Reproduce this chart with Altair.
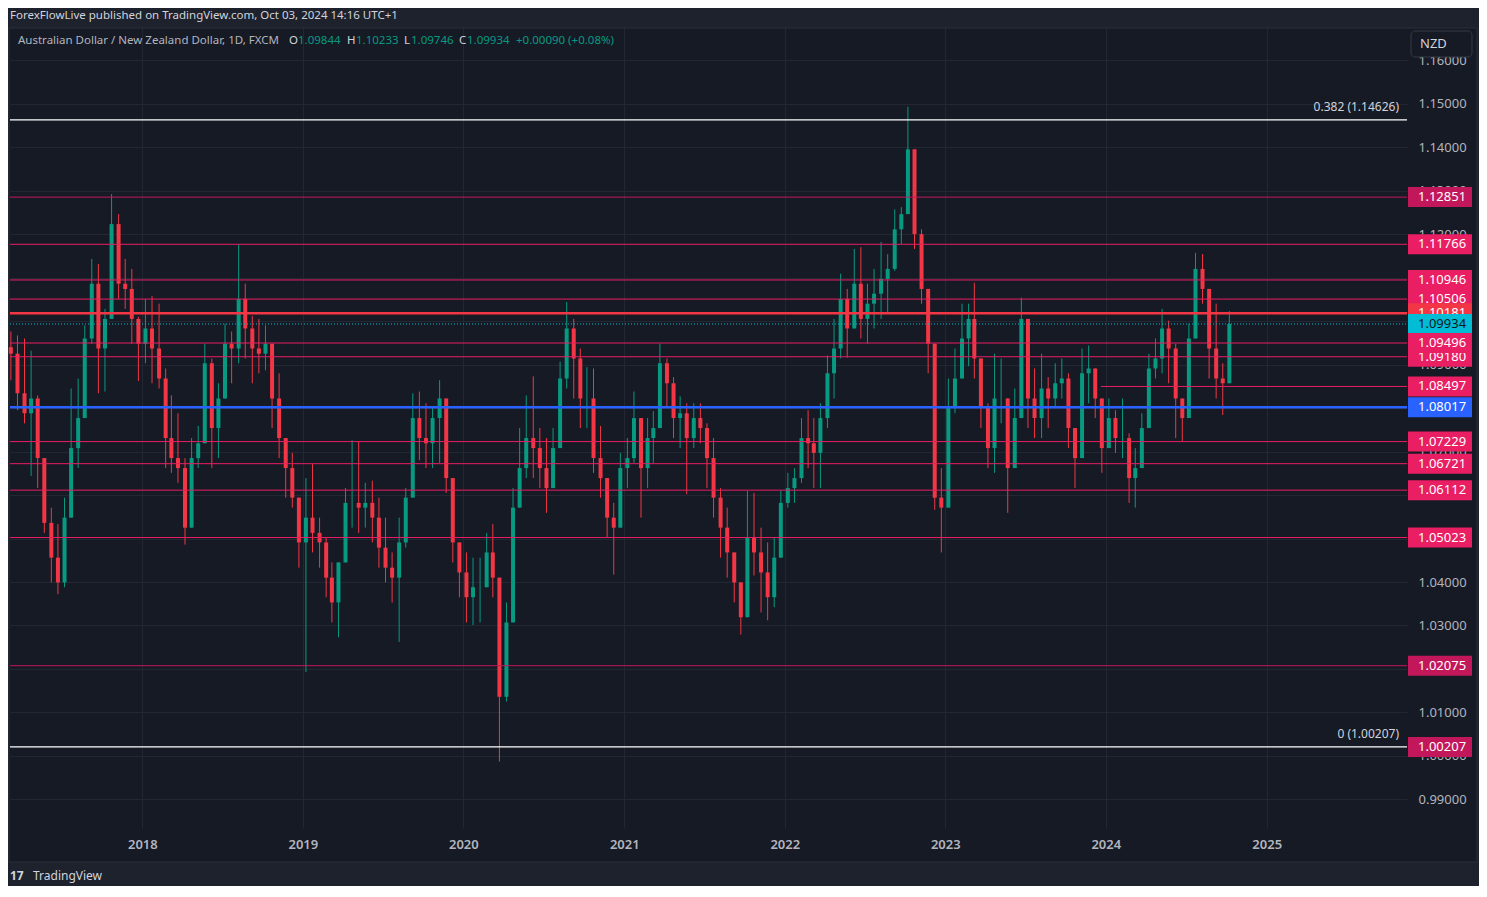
import altair as alt
import pandas as pd

# ---------------- data (semi-monthly candles) ----------------
first_open = 1.0940
highs = [1.0976, 1.0967, 1.0960, 1.0932, 1.0829, 1.0680, 1.0571, 1.0533, 1.0594, 1.0845,
         1.0868, 1.0990, 1.1143, 1.1131, 1.1028, 1.1292, 1.1246, 1.1143, 1.1120, 1.1010,
         1.1051, 1.1058, 1.1040, 1.0891, 1.0829, 1.0788, 1.0685, 1.0731, 1.0759, 1.0948,
         1.0914, 1.0857, 1.0994, 1.0976, 1.1177, 1.1086, 1.1012, 1.1005, 1.0990, 1.0925,
         1.0880, 1.0719, 1.0697, 1.0582, 1.0639, 1.0671, 1.0548, 1.0502, 1.0445, 1.0410,
         1.0616, 1.0726, 1.0724, 1.0628, 1.0633, 1.0594, 1.0548, 1.0468, 1.0548, 1.0616,
         1.0834, 1.0838, 1.0811, 1.0804, 1.0864, 1.0822, 1.0605, 1.0491, 1.0468, 1.0456,
         1.0456, 1.0513, 1.0533, 1.0307, 1.0353, 1.0616, 1.0754, 1.0829, 1.0873, 1.0754,
         1.0731, 1.0754, 1.0907, 1.1044, 1.1005, 1.0937, 1.0894, 1.0891, 1.0759, 1.0639,
         1.0582, 1.0697, 1.0731, 1.0838, 1.0777, 1.0777, 1.0793, 1.0948, 1.0914, 1.0871,
         1.0827, 1.0811, 1.0811, 1.0811, 1.0765, 1.0731, 1.0616, 1.0571, 1.0468, 1.0388,
         1.0610, 1.0605, 1.0525, 1.0491, 1.0502, 1.0610, 1.0651, 1.0662, 1.0777, 1.0795,
         1.0777, 1.0811, 1.0921, 1.1005, 1.1109, 1.1074, 1.1166, 1.1170, 1.1086, 1.1120,
         1.1182, 1.1154, 1.1257, 1.1262, 1.1493, 1.1372, 1.1211, 1.1051, 1.0834, 1.0662,
         1.0868, 1.0937, 1.1040, 1.1040, 1.1088, 1.0891, 1.0811, 1.0925, 1.0914, 1.0811,
         1.0845, 1.1054, 1.1005, 1.0891, 1.0925, 1.0871, 1.0903, 1.0914, 1.0880, 1.0742,
         1.0937, 1.0944, 1.0880, 1.0800, 1.0822, 1.0795, 1.0822, 1.0742, 1.0708, 1.0788,
         1.0925, 1.0960, 1.1028, 1.1001, 1.0948, 1.0822, 1.0994, 1.1157, 1.1154, 1.1058,
         1.1040, 1.0903, 1.1023]
lows = [1.0864, 1.0795, 1.0765, 1.0644, 1.0616, 1.0513, 1.0399, 1.0372, 1.0388, 1.0582,
        1.0662, 1.0788, 1.0948, 1.0834, 1.0838, 1.1005, 1.1051, 1.1028, 1.0948, 1.0862,
        1.0903, 1.0857, 1.0845, 1.0662, 1.0651, 1.0628, 1.0486, 1.0548, 1.0662, 1.0765,
        1.0662, 1.0685, 1.0845, 1.0857, 1.0903, 1.0914, 1.0857, 1.0880, 1.0887, 1.0754,
        1.0685, 1.0594, 1.0571, 1.0433, 1.0193, 1.0468, 1.0433, 1.0365, 1.0307, 1.0273,
        1.0445, 1.0525, 1.0513, 1.0525, 1.0491, 1.0433, 1.0399, 1.0353, 1.0262, 1.0479,
        1.0628, 1.0680, 1.0662, 1.0662, 1.0674, 1.0605, 1.0445, 1.0365, 1.0307, 1.0301,
        1.0307, 1.0388, 1.0365, 0.9987, 1.0125, 1.0330, 1.0571, 1.0639, 1.0639, 1.0616,
        1.0559, 1.0628, 1.0708, 1.0845, 1.0822, 1.0754, 1.0754, 1.0651, 1.0594, 1.0502,
        1.0417, 1.0536, 1.0616, 1.0674, 1.0548, 1.0616, 1.0674, 1.0765, 1.0800, 1.0731,
        1.0708, 1.0602, 1.0708, 1.0719, 1.0616, 1.0548, 1.0456, 1.0410, 1.0353, 1.0279,
        1.0330, 1.0415, 1.0330, 1.0312, 1.0342, 1.0468, 1.0571, 1.0582, 1.0628, 1.0662,
        1.0616, 1.0616, 1.0754, 1.0822, 1.0914, 1.0916, 1.0983, 1.0960, 1.0948, 1.0983,
        1.1005, 1.1017, 1.1115, 1.1177, 1.1303, 1.1166, 1.1040, 1.0880, 1.0566, 1.0468,
        1.0635, 1.0788, 1.0880, 1.0896, 1.0868, 1.0754, 1.0662, 1.0651, 1.0765, 1.0559,
        1.0697, 1.0880, 1.0754, 1.0731, 1.0731, 1.0754, 1.0800, 1.0822, 1.0708, 1.0616,
        1.0788, 1.0811, 1.0777, 1.0651, 1.0708, 1.0697, 1.0685, 1.0582, 1.0571, 1.0685,
        1.0822, 1.0868, 1.0880, 1.0857, 1.0731, 1.0724, 1.0845, 1.0994, 1.1040, 1.0868,
        1.0822, 1.0784, 1.0860]
closes = [1.0925, 1.0834, 1.0788, 1.0822, 1.0685, 1.0536, 1.0456, 1.0399, 1.0548, 1.0708,
          1.0777, 1.0960, 1.1086, 1.0937, 1.1005, 1.1223, 1.1086, 1.1074, 1.1005, 1.0948,
          1.0983, 1.0937, 1.0868, 1.0731, 1.0685, 1.0662, 1.0525, 1.0685, 1.0719, 1.0903,
          1.0754, 1.0822, 1.0948, 1.0937, 1.1051, 1.0983, 1.0937, 1.0925, 1.0948, 1.0822,
          1.0731, 1.0662, 1.0594, 1.0491, 1.0548, 1.0513, 1.0491, 1.0410, 1.0353, 1.0445,
          1.0582, 1.0582, 1.0571, 1.0582, 1.0548, 1.0479, 1.0433, 1.0410, 1.0491, 1.0594,
          1.0777, 1.0731, 1.0719, 1.0777, 1.0822, 1.0639, 1.0491, 1.0422, 1.0365, 1.0388,
          1.0388, 1.0468, 1.0410, 1.0136, 1.0307, 1.0571, 1.0662, 1.0731, 1.0708, 1.0662,
          1.0616, 1.0708, 1.0868, 1.0983, 1.0914, 1.0822, 1.0822, 1.0685, 1.0639, 1.0548,
          1.0525, 1.0662, 1.0685, 1.0777, 1.0662, 1.0731, 1.0754, 1.0903, 1.0857, 1.0777,
          1.0788, 1.0731, 1.0777, 1.0754, 1.0685, 1.0594, 1.0525, 1.0468, 1.0399, 1.0319,
          1.0502, 1.0468, 1.0422, 1.0365, 1.0456, 1.0582, 1.0616, 1.0639, 1.0731, 1.0719,
          1.0697, 1.0777, 1.0880, 1.0937, 1.1051, 1.0983, 1.1086, 1.1005, 1.1040, 1.1063,
          1.1097, 1.1120, 1.1211, 1.1246, 1.1395, 1.1200, 1.1074, 1.0948, 1.0594, 1.0571,
          1.0800, 1.0868, 1.0960, 1.1005, 1.0914, 1.0800, 1.0708, 1.0822, 1.0822, 1.0662,
          1.0777, 1.1005, 1.0822, 1.0777, 1.0845, 1.0822, 1.0857, 1.0868, 1.0754, 1.0685,
          1.0880, 1.0891, 1.0822, 1.0708, 1.0777, 1.0731, 1.0731, 1.0639, 1.0662, 1.0754,
          1.0891, 1.0914, 1.0983, 1.0937, 1.0822, 1.0777, 1.0960, 1.1120, 1.1074, 1.0937,
          1.0868, 1.0857, 1.09934]

# horizontal levels drawn on the chart
level_prices = [1.14626, 1.12851, 1.11766, 1.10946, 1.10506, 1.10181, 1.09934, 1.09496,
                1.09180, 1.08497, 1.08017, 1.07229, 1.06721, 1.06112, 1.05023, 1.02075, 1.00207]
level_kinds = ["fib", "dim", "pink", "pink", "pink", "red", "current", "pink",
               "pink", "pink", "blue", "pink", "pink", "pink", "pink", "dim", "fib"]
level_starts = ["2017-03-06"] * 9 + ["2023-12-21"] + ["2017-03-06"] * 7
fib_prices = [1.14626, 1.00207]
fib_texts = ["0.382 (1.14626)", "0 (1.00207)"]
# price-scale tag order (later ones drawn on top)
tag_prices = [1.12851, 1.11766, 1.10946, 1.10506, 1.10181, 1.09934, 1.09180, 1.09496,
              1.08497, 1.08017, 1.07229, 1.06721, 1.06112, 1.05023, 1.02075, 1.00207]

y_ticks = [0.99, 1.00, 1.01, 1.02, 1.03, 1.04, 1.05, 1.06, 1.07, 1.08, 1.09,
           1.10, 1.11, 1.12, 1.13, 1.14, 1.15, 1.16]
year_ticks = [2018, 2019, 2020, 2021, 2022, 2023, 2024, 2025]

header_text = "ForexFlowLive published on TradingView.com, Oct 03, 2024 14:16 UTC+1"
symbol_text = "Australian Dollar / New Zealand Dollar, 1D, FXCM"
ohlc_keys = ["O", "H", "L", "C"]
ohlc_vals = ["1.09844", "1.10233", "1.09746", "1.09934"]
change_text = "+0.00090 (+0.08%)"

# ---------------- styles ----------------
BG = "#161a25"
FRAME = "#1e222d"
BORDER = "#2a2e39"
GRID = "#232733"
AXIS_TXT = "#b2b5be"
TXT = "#d1d4dc"
UP = "#089981"
DOWN = "#f23645"
FONT = "Noto Sans"
kind_style = {
    "fib": ("#ffffff", 1.2, "#c2185b"),
    "dim": ("#c2185b", 1, "#c2185b"),
    "pink": ("#e91e63", 1, "#e91e63"),
    "red": ("#f23645", 2.5, "#f23645"),
    "current": ("#00bcd4", 1, "#00bcd4"),
    "blue": ("#2962ff", 2.5, "#2962ff"),
}
PX = 0.18397 / 800.0  # price per pixel

# ---------------- tables ----------------
n = len(closes)
assert len(highs) == n and len(lows) == n
dates = []
for i in range(n):
    m = 3 + i // 2
    yy = 2017 + (m - 1) // 12
    mm = (m - 1) % 12 + 1
    dd = 8 if i % 2 == 0 else 23
    dates.append(f"{yy:04d}-{mm:02d}-{dd:02d}")
opens = [first_open] + closes[:-1]
candles = pd.DataFrame({
    "date": dates, "open": opens, "high": highs, "low": lows, "close": closes,
    "dir": ["up" if c >= o else "down" for o, c in zip(opens, closes)],
})

levels = pd.DataFrame({
    "price": level_prices,
    "start": level_starts,
    "end": ["2025-11-16"] * len(level_prices),
    "color": [kind_style[k][0] for k in level_kinds],
    "w": [kind_style[k][1] for k in level_kinds],
    "kind": level_kinds,
})
kind_of = dict(zip(level_prices, level_kinds))

x_scale = alt.Scale(type="utc", padding=0,
                    domain=[alt.DateTime(year=2017, month=3, date=6, utc=True),
                            alt.DateTime(year=2025, month=11, date=16, utc=True)])
y_scale = alt.Scale(domain=[0.98343, 1.16740], zero=False, nice=False, padding=0)

x_axis = alt.Axis(values=[alt.DateTime(year=yv, month=1, date=1, utc=True) for yv in year_ticks],
                  format="%Y", grid=True, gridColor=GRID, domain=False, ticks=False, tickSize=0,
                  labelColor=AXIS_TXT, labelFont=FONT, labelFontSize=13, labelFontWeight=600,
                  labelBaseline="middle", labelPadding=16, labelOverlap=False, labelFlush=False,
                  title=None)
y_axis = alt.Axis(orient="right", values=y_ticks, format=".5f", grid=True, gridColor=GRID,
                  domain=False, ticks=False, tickSize=0, labelColor=AXIS_TXT, labelFont=FONT,
                  labelFontSize=13, labelPadding=11, labelAlign="left", labelBaseline="middle",
                  labelOverlap=False, labelBound=False, title=None)

one = pd.DataFrame({"a": [0]})
layers = []

# outer frame bands (outside the chart panel)
for x0, x1, y0, y1 in [(-2, 1469, -20, 0), (-2, 1469, 834, 860), (-2, -1, -20, 860), (1467, 1469, -20, 860)]:
    layers.append(alt.Chart(one).mark_rect(color=FRAME).encode(
        x=alt.value(x0), x2=alt.value(x1), y=alt.value(y0), y2=alt.value(y1)))
layers.append(alt.Chart(one).mark_rect(fill=None, stroke=BORDER, strokeWidth=1).encode(
    x=alt.value(-1), x2=alt.value(1467), y=alt.value(0), y2=alt.value(834)))

# wicks and bodies
base = alt.Chart(candles).transform_calculate(
    wlo="min(datum.low, datum.open, datum.close)",
    whi="max(datum.high, datum.open, datum.close)")
color_enc = alt.Color("dir:N", scale=alt.Scale(domain=["up", "down"], range=[UP, DOWN]), legend=None)
wicks = base.mark_rule(strokeWidth=1).encode(
    x=alt.X("date:T", scale=x_scale, axis=x_axis),
    y=alt.Y("wlo:Q", scale=y_scale, axis=y_axis),
    y2="whi:Q", color=color_enc)
bodies = base.mark_bar(size=4).encode(
    x=alt.X("date:T", scale=x_scale, axis=x_axis),
    y=alt.Y("open:Q", scale=y_scale, axis=y_axis),
    y2="close:Q", color=color_enc)
layers += [wicks, bodies]

# level lines
solid = levels[levels["kind"] != "current"]
layers.append(alt.Chart(solid).mark_rule().encode(
    x=alt.X("start:T", scale=x_scale), x2="end:T",
    y=alt.Y("price:Q", scale=y_scale),
    color=alt.Color("color:N", scale=None),
    strokeWidth=alt.StrokeWidth("w:Q", scale=None)))
cur = levels[levels["kind"] == "current"]
layers.append(alt.Chart(cur).mark_rule(strokeDash=[1, 2], strokeWidth=1, color="#00bcd4").encode(
    x=alt.X("start:T", scale=x_scale), x2="end:T", y=alt.Y("price:Q", scale=y_scale)))

# fib texts
fib_df = pd.DataFrame({"price": fib_prices, "text": fib_texts})
layers.append(alt.Chart(fib_df).mark_text(align="right", baseline="middle", dy=-13, font=FONT,
                                          fontSize=12, color=TXT).encode(
    x=alt.value(1389), y=alt.Y("price:Q", scale=y_scale), text="text:N"))

# price-scale tags
for p in tag_prices:
    k = kind_of[p]
    fill = kind_style[k][2]
    tcol = "#131722" if k == "current" else "#ffffff"
    df = pd.DataFrame({"price": [p], "label": [f"{p:.5f}"]})
    tb = alt.Chart(df).transform_calculate(top=f"datum.price + {10 * PX}",
                                           bot=f"datum.price - {10 * PX}")
    layers.append(tb.mark_rect(color=fill).encode(
        x=alt.value(1398), x2=alt.value(1462),
        y=alt.Y("top:Q", scale=y_scale), y2="bot:Q"))
    layers.append(tb.mark_text(align="left", baseline="middle", font=FONT, fontSize=13,
                               color=tcol).encode(
        x=alt.value(1408), y=alt.Y("price:Q", scale=y_scale), text="label:N"))

# NZD currency box
layers.append(alt.Chart(one).mark_rect(fill=BG, stroke="#363a45", strokeWidth=1, cornerRadius=4).encode(
    x=alt.value(1401), x2=alt.value(1462), y=alt.value(3), y2=alt.value(29)))
layers.append(alt.Chart(one).mark_text(text="NZD", align="left", baseline="middle", font=FONT,
                                       fontSize=13, color=TXT).encode(
    x=alt.value(1410), y=alt.value(16)))

# header texts
def txt(s, x, y, color, size=11.5, weight="normal"):
    return alt.Chart(one).mark_text(text=s, align="left", baseline="middle", font=FONT,
                                    fontSize=size, color=color, fontWeight=weight).encode(
        x=alt.value(x), y=alt.value(y))

layers.append(txt(header_text, 0, -12, TXT))
layers.append(txt(symbol_text, 8, 13, AXIS_TXT))
key_x = [279, 337, 394, 449]
val_x = [288, 346, 401, 457]
for kx, vx, kk, vv in zip(key_x, val_x, ohlc_keys, ohlc_vals):
    layers.append(txt(kk, kx, 13, TXT))
    layers.append(txt(vv, vx, 13, UP))
layers.append(txt(change_text, 506, 13, UP))

# TradingView footer
layers.append(txt("17", 0, 848, TXT, size=12, weight="bold"))
layers.append(txt("TradingView", 23, 848, TXT, size=12))

chart = alt.layer(*layers).properties(
    width=1397, height=800,
    autosize=alt.AutoSizeParams(type="none"),
    padding={"left": 2, "top": 20, "right": 72, "bottom": 58},
    background=BG,
).configure_view(stroke=None, fill=BG)

chart.save("out.html", embed_options={"renderer": "svg", "actions": False})
